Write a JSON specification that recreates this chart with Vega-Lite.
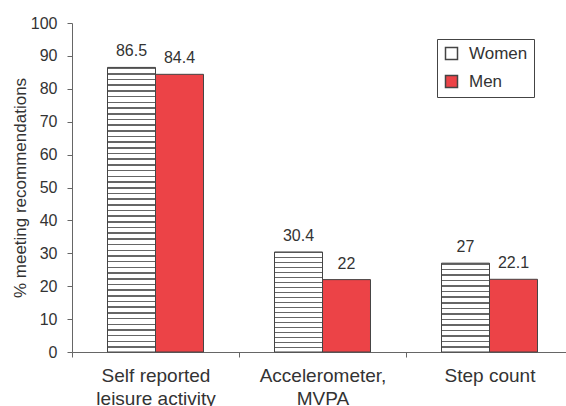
{
  "$schema": "https://vega.github.io/schema/vega-lite/v6.json",
  "width": 501,
  "height": 329,
  "autosize": {"type": "none"},
  "padding": {"left": 72, "top": 23, "right": -7, "bottom": 54},
  "background": "white",
  "config": {
    "font": "Liberation Sans",
    "view": {"stroke": null},
    "axis": {"labelColor": "#333", "titleColor": "#333", "domainColor": "#666", "tickColor": "#666", "grid": false, "labelFont": "Liberation Sans", "titleFont": "Liberation Sans"},
    "legend": {"labelFont": "Liberation Sans", "labelColor": "#333"}
  },
  "data": {
    "values": [
      {"measure": "Self reported leisure activity", "gender": "Women", "value": 86.5},
      {"measure": "Self reported leisure activity", "gender": "Men", "value": 84.4},
      {"measure": "Accelerometer, MVPA", "gender": "Women", "value": 30.4},
      {"measure": "Accelerometer, MVPA", "gender": "Men", "value": 22},
      {"measure": "Step count", "gender": "Women", "value": 27},
      {"measure": "Step count", "gender": "Men", "value": 22.1}
    ]
  },
  "encoding": {
    "x": {
      "field": "measure", "type": "nominal",
      "sort": ["Self reported leisure activity", "Accelerometer, MVPA", "Step count"],
      "scale": {"paddingInner": 0, "paddingOuter": 0},
      "axis": {
        "title": null, "labelAngle": 0, "labelFontSize": 19, "labelLineHeight": 23, "labelPadding": 9, "tickSize": 5, "tickBand": "extent",
        "labelExpr": "datum.value === 'Self reported leisure activity' ? ['Self reported', 'leisure activity'] : datum.value === 'Accelerometer, MVPA' ? ['Accelerometer,', 'MVPA'] : datum.value"
      }
    },
    "xOffset": {"field": "gender", "type": "nominal", "sort": ["Women", "Men"], "scale": {"paddingInner": 0, "paddingOuter": 0.74}},
    "y": {
      "field": "value", "type": "quantitative",
      "scale": {"domain": [0, 100]},
      "axis": {"title": "% meeting recommendations", "values": [0, 10, 20, 30, 40, 50, 60, 70, 80, 90, 100], "tickSize": 5, "labelFontSize": 16, "labelPadding": 10, "titleFontSize": 17, "titleFontWeight": "normal", "titlePadding": 1}
    }
  },
  "layer": [
    {
      "mark": {"type": "bar", "stroke": "#444", "strokeWidth": 1},
      "encoding": {
        "fill": {
          "field": "gender", "type": "nominal",
          "scale": {"domain": ["Women", "Men"], "range": ["#ffffff", "#ec4347"]},
          "legend": {
            "orient": "none", "legendX": 365, "legendY": 16, "title": null, "strokeColor": "#444", "fillColor": "white", "padding": 6, "labelFontSize": 17, "symbolType": "square", "symbolSize": 144, "symbolStrokeColor": "#444", "symbolStrokeWidth": 1.5, "rowPadding": 9, "labelOffset": 9,
            "encode": {"symbols": {"update": {
              "stroke": {"value": "#444"},
              "strokeWidth": {"value": 1.5},
              "opacity": {"value": 1},
              "fill": [
                {"test": "datum.value === 'Women'", "value": {"gradient": "linear", "x1": 0, "y1": 0, "x2": 0, "y2": 1, "stops": [
                  {"offset": 0, "color": "#fff"}, {"offset": 0.42, "color": "#fff"}, {"offset": 0.42, "color": "#555"}, {"offset": 0.58, "color": "#555"}, {"offset": 0.58, "color": "#fff"}, {"offset": 1, "color": "#fff"}
                ]}},
                {"value": "#ec4347"}
              ]
            }}}
          },
          "condition": [
            {"test": "datum.gender === 'Women' && datum.measure === 'Self reported leisure activity'", "value": {"gradient": "linear", "x1": 0, "y1": 0, "x2": 0, "y2": 1, "stops": [
              {"offset": 0, "color": "#666"}, {"offset": 0.0055, "color": "#666"}, {"offset": 0.0055, "color": "#fff"}, {"offset": 0.02, "color": "#fff"},
              {"offset": 0.02, "color": "#666"}, {"offset": 0.0255, "color": "#666"}, {"offset": 0.0255, "color": "#fff"}, {"offset": 0.04, "color": "#fff"},
              {"offset": 0.04, "color": "#666"}, {"offset": 0.0455, "color": "#666"}, {"offset": 0.0455, "color": "#fff"}, {"offset": 0.06, "color": "#fff"},
              {"offset": 0.06, "color": "#666"}, {"offset": 0.0655, "color": "#666"}, {"offset": 0.0655, "color": "#fff"}, {"offset": 0.08, "color": "#fff"},
              {"offset": 0.08, "color": "#666"}, {"offset": 0.0855, "color": "#666"}, {"offset": 0.0855, "color": "#fff"}, {"offset": 0.1, "color": "#fff"},
              {"offset": 0.1, "color": "#666"}, {"offset": 0.1055, "color": "#666"}, {"offset": 0.1055, "color": "#fff"}, {"offset": 0.12, "color": "#fff"},
              {"offset": 0.12, "color": "#666"}, {"offset": 0.1255, "color": "#666"}, {"offset": 0.1255, "color": "#fff"}, {"offset": 0.14, "color": "#fff"},
              {"offset": 0.14, "color": "#666"}, {"offset": 0.1455, "color": "#666"}, {"offset": 0.1455, "color": "#fff"}, {"offset": 0.16, "color": "#fff"},
              {"offset": 0.16, "color": "#666"}, {"offset": 0.1655, "color": "#666"}, {"offset": 0.1655, "color": "#fff"}, {"offset": 0.18, "color": "#fff"},
              {"offset": 0.18, "color": "#666"}, {"offset": 0.1855, "color": "#666"}, {"offset": 0.1855, "color": "#fff"}, {"offset": 0.2, "color": "#fff"},
              {"offset": 0.2, "color": "#666"}, {"offset": 0.2055, "color": "#666"}, {"offset": 0.2055, "color": "#fff"}, {"offset": 0.22, "color": "#fff"},
              {"offset": 0.22, "color": "#666"}, {"offset": 0.2255, "color": "#666"}, {"offset": 0.2255, "color": "#fff"}, {"offset": 0.24, "color": "#fff"},
              {"offset": 0.24, "color": "#666"}, {"offset": 0.2455, "color": "#666"}, {"offset": 0.2455, "color": "#fff"}, {"offset": 0.26, "color": "#fff"},
              {"offset": 0.26, "color": "#666"}, {"offset": 0.2655, "color": "#666"}, {"offset": 0.2655, "color": "#fff"}, {"offset": 0.28, "color": "#fff"},
              {"offset": 0.28, "color": "#666"}, {"offset": 0.2855, "color": "#666"}, {"offset": 0.2855, "color": "#fff"}, {"offset": 0.3, "color": "#fff"},
              {"offset": 0.3, "color": "#666"}, {"offset": 0.3055, "color": "#666"}, {"offset": 0.3055, "color": "#fff"}, {"offset": 0.32, "color": "#fff"},
              {"offset": 0.32, "color": "#666"}, {"offset": 0.3255, "color": "#666"}, {"offset": 0.3255, "color": "#fff"}, {"offset": 0.34, "color": "#fff"},
              {"offset": 0.34, "color": "#666"}, {"offset": 0.3455, "color": "#666"}, {"offset": 0.3455, "color": "#fff"}, {"offset": 0.36, "color": "#fff"},
              {"offset": 0.36, "color": "#666"}, {"offset": 0.3655, "color": "#666"}, {"offset": 0.3655, "color": "#fff"}, {"offset": 0.38, "color": "#fff"},
              {"offset": 0.38, "color": "#666"}, {"offset": 0.3855, "color": "#666"}, {"offset": 0.3855, "color": "#fff"}, {"offset": 0.4, "color": "#fff"},
              {"offset": 0.4, "color": "#666"}, {"offset": 0.4055, "color": "#666"}, {"offset": 0.4055, "color": "#fff"}, {"offset": 0.42, "color": "#fff"},
              {"offset": 0.42, "color": "#666"}, {"offset": 0.4255, "color": "#666"}, {"offset": 0.4255, "color": "#fff"}, {"offset": 0.44, "color": "#fff"},
              {"offset": 0.44, "color": "#666"}, {"offset": 0.4455, "color": "#666"}, {"offset": 0.4455, "color": "#fff"}, {"offset": 0.46, "color": "#fff"},
              {"offset": 0.46, "color": "#666"}, {"offset": 0.4655, "color": "#666"}, {"offset": 0.4655, "color": "#fff"}, {"offset": 0.48, "color": "#fff"},
              {"offset": 0.48, "color": "#666"}, {"offset": 0.4855, "color": "#666"}, {"offset": 0.4855, "color": "#fff"}, {"offset": 0.5, "color": "#fff"},
              {"offset": 0.5, "color": "#666"}, {"offset": 0.5055, "color": "#666"}, {"offset": 0.5055, "color": "#fff"}, {"offset": 0.52, "color": "#fff"},
              {"offset": 0.52, "color": "#666"}, {"offset": 0.5255, "color": "#666"}, {"offset": 0.5255, "color": "#fff"}, {"offset": 0.54, "color": "#fff"},
              {"offset": 0.54, "color": "#666"}, {"offset": 0.5455, "color": "#666"}, {"offset": 0.5455, "color": "#fff"}, {"offset": 0.56, "color": "#fff"},
              {"offset": 0.56, "color": "#666"}, {"offset": 0.5655, "color": "#666"}, {"offset": 0.5655, "color": "#fff"}, {"offset": 0.58, "color": "#fff"},
              {"offset": 0.58, "color": "#666"}, {"offset": 0.5855, "color": "#666"}, {"offset": 0.5855, "color": "#fff"}, {"offset": 0.6, "color": "#fff"},
              {"offset": 0.6, "color": "#666"}, {"offset": 0.6055, "color": "#666"}, {"offset": 0.6055, "color": "#fff"}, {"offset": 0.62, "color": "#fff"},
              {"offset": 0.62, "color": "#666"}, {"offset": 0.6255, "color": "#666"}, {"offset": 0.6255, "color": "#fff"}, {"offset": 0.64, "color": "#fff"},
              {"offset": 0.64, "color": "#666"}, {"offset": 0.6455, "color": "#666"}, {"offset": 0.6455, "color": "#fff"}, {"offset": 0.66, "color": "#fff"},
              {"offset": 0.66, "color": "#666"}, {"offset": 0.6655, "color": "#666"}, {"offset": 0.6655, "color": "#fff"}, {"offset": 0.68, "color": "#fff"},
              {"offset": 0.68, "color": "#666"}, {"offset": 0.6855, "color": "#666"}, {"offset": 0.6855, "color": "#fff"}, {"offset": 0.7, "color": "#fff"},
              {"offset": 0.7, "color": "#666"}, {"offset": 0.7055, "color": "#666"}, {"offset": 0.7055, "color": "#fff"}, {"offset": 0.72, "color": "#fff"},
              {"offset": 0.72, "color": "#666"}, {"offset": 0.7255, "color": "#666"}, {"offset": 0.7255, "color": "#fff"}, {"offset": 0.74, "color": "#fff"},
              {"offset": 0.74, "color": "#666"}, {"offset": 0.7455, "color": "#666"}, {"offset": 0.7455, "color": "#fff"}, {"offset": 0.76, "color": "#fff"},
              {"offset": 0.76, "color": "#666"}, {"offset": 0.7655, "color": "#666"}, {"offset": 0.7655, "color": "#fff"}, {"offset": 0.78, "color": "#fff"},
              {"offset": 0.78, "color": "#666"}, {"offset": 0.7855, "color": "#666"}, {"offset": 0.7855, "color": "#fff"}, {"offset": 0.8, "color": "#fff"},
              {"offset": 0.8, "color": "#666"}, {"offset": 0.8055, "color": "#666"}, {"offset": 0.8055, "color": "#fff"}, {"offset": 0.82, "color": "#fff"},
              {"offset": 0.82, "color": "#666"}, {"offset": 0.8255, "color": "#666"}, {"offset": 0.8255, "color": "#fff"}, {"offset": 0.84, "color": "#fff"},
              {"offset": 0.84, "color": "#666"}, {"offset": 0.8455, "color": "#666"}, {"offset": 0.8455, "color": "#fff"}, {"offset": 0.86, "color": "#fff"},
              {"offset": 0.86, "color": "#666"}, {"offset": 0.8655, "color": "#666"}, {"offset": 0.8655, "color": "#fff"}, {"offset": 0.88, "color": "#fff"},
              {"offset": 0.88, "color": "#666"}, {"offset": 0.8855, "color": "#666"}, {"offset": 0.8855, "color": "#fff"}, {"offset": 0.9, "color": "#fff"},
              {"offset": 0.9, "color": "#666"}, {"offset": 0.9055, "color": "#666"}, {"offset": 0.9055, "color": "#fff"}, {"offset": 0.92, "color": "#fff"},
              {"offset": 0.92, "color": "#666"}, {"offset": 0.9255, "color": "#666"}, {"offset": 0.9255, "color": "#fff"}, {"offset": 0.94, "color": "#fff"},
              {"offset": 0.94, "color": "#666"}, {"offset": 0.9455, "color": "#666"}, {"offset": 0.9455, "color": "#fff"}, {"offset": 0.96, "color": "#fff"},
              {"offset": 0.96, "color": "#666"}, {"offset": 0.9655, "color": "#666"}, {"offset": 0.9655, "color": "#fff"}, {"offset": 0.98, "color": "#fff"},
              {"offset": 0.98, "color": "#666"}, {"offset": 0.9855, "color": "#666"}, {"offset": 0.9855, "color": "#fff"}, {"offset": 1, "color": "#fff"}
            ]}},
            {"test": "datum.gender === 'Women' && datum.measure === 'Accelerometer, MVPA'", "value": {"gradient": "linear", "x1": 0, "y1": 0, "x2": 0, "y2": 1, "stops": [
              {"offset": 0, "color": "#666"}, {"offset": 0.015, "color": "#666"}, {"offset": 0.015, "color": "#fff"}, {"offset": 0.05, "color": "#fff"},
              {"offset": 0.05, "color": "#666"}, {"offset": 0.065, "color": "#666"}, {"offset": 0.065, "color": "#fff"}, {"offset": 0.1, "color": "#fff"},
              {"offset": 0.1, "color": "#666"}, {"offset": 0.115, "color": "#666"}, {"offset": 0.115, "color": "#fff"}, {"offset": 0.15, "color": "#fff"},
              {"offset": 0.15, "color": "#666"}, {"offset": 0.165, "color": "#666"}, {"offset": 0.165, "color": "#fff"}, {"offset": 0.2, "color": "#fff"},
              {"offset": 0.2, "color": "#666"}, {"offset": 0.215, "color": "#666"}, {"offset": 0.215, "color": "#fff"}, {"offset": 0.25, "color": "#fff"},
              {"offset": 0.25, "color": "#666"}, {"offset": 0.265, "color": "#666"}, {"offset": 0.265, "color": "#fff"}, {"offset": 0.3, "color": "#fff"},
              {"offset": 0.3, "color": "#666"}, {"offset": 0.315, "color": "#666"}, {"offset": 0.315, "color": "#fff"}, {"offset": 0.35, "color": "#fff"},
              {"offset": 0.35, "color": "#666"}, {"offset": 0.365, "color": "#666"}, {"offset": 0.365, "color": "#fff"}, {"offset": 0.4, "color": "#fff"},
              {"offset": 0.4, "color": "#666"}, {"offset": 0.415, "color": "#666"}, {"offset": 0.415, "color": "#fff"}, {"offset": 0.45, "color": "#fff"},
              {"offset": 0.45, "color": "#666"}, {"offset": 0.465, "color": "#666"}, {"offset": 0.465, "color": "#fff"}, {"offset": 0.5, "color": "#fff"},
              {"offset": 0.5, "color": "#666"}, {"offset": 0.515, "color": "#666"}, {"offset": 0.515, "color": "#fff"}, {"offset": 0.55, "color": "#fff"},
              {"offset": 0.55, "color": "#666"}, {"offset": 0.565, "color": "#666"}, {"offset": 0.565, "color": "#fff"}, {"offset": 0.6, "color": "#fff"},
              {"offset": 0.6, "color": "#666"}, {"offset": 0.615, "color": "#666"}, {"offset": 0.615, "color": "#fff"}, {"offset": 0.65, "color": "#fff"},
              {"offset": 0.65, "color": "#666"}, {"offset": 0.665, "color": "#666"}, {"offset": 0.665, "color": "#fff"}, {"offset": 0.7, "color": "#fff"},
              {"offset": 0.7, "color": "#666"}, {"offset": 0.715, "color": "#666"}, {"offset": 0.715, "color": "#fff"}, {"offset": 0.75, "color": "#fff"},
              {"offset": 0.75, "color": "#666"}, {"offset": 0.765, "color": "#666"}, {"offset": 0.765, "color": "#fff"}, {"offset": 0.8, "color": "#fff"},
              {"offset": 0.8, "color": "#666"}, {"offset": 0.815, "color": "#666"}, {"offset": 0.815, "color": "#fff"}, {"offset": 0.85, "color": "#fff"},
              {"offset": 0.85, "color": "#666"}, {"offset": 0.865, "color": "#666"}, {"offset": 0.865, "color": "#fff"}, {"offset": 0.9, "color": "#fff"},
              {"offset": 0.9, "color": "#666"}, {"offset": 0.915, "color": "#666"}, {"offset": 0.915, "color": "#fff"}, {"offset": 0.95, "color": "#fff"},
              {"offset": 0.95, "color": "#666"}, {"offset": 0.965, "color": "#666"}, {"offset": 0.965, "color": "#fff"}, {"offset": 1, "color": "#fff"}
            ]}},
            {"test": "datum.gender === 'Women' && datum.measure === 'Step count'", "value": {"gradient": "linear", "x1": 0, "y1": 0, "x2": 0, "y2": 1, "stops": [
              {"offset": 0, "color": "#666"}, {"offset": 0.017, "color": "#666"}, {"offset": 0.017, "color": "#fff"}, {"offset": 0.0625, "color": "#fff"},
              {"offset": 0.0625, "color": "#666"}, {"offset": 0.0795, "color": "#666"}, {"offset": 0.0795, "color": "#fff"}, {"offset": 0.125, "color": "#fff"},
              {"offset": 0.125, "color": "#666"}, {"offset": 0.142, "color": "#666"}, {"offset": 0.142, "color": "#fff"}, {"offset": 0.1875, "color": "#fff"},
              {"offset": 0.1875, "color": "#666"}, {"offset": 0.2045, "color": "#666"}, {"offset": 0.2045, "color": "#fff"}, {"offset": 0.25, "color": "#fff"},
              {"offset": 0.25, "color": "#666"}, {"offset": 0.267, "color": "#666"}, {"offset": 0.267, "color": "#fff"}, {"offset": 0.3125, "color": "#fff"},
              {"offset": 0.3125, "color": "#666"}, {"offset": 0.3295, "color": "#666"}, {"offset": 0.3295, "color": "#fff"}, {"offset": 0.375, "color": "#fff"},
              {"offset": 0.375, "color": "#666"}, {"offset": 0.392, "color": "#666"}, {"offset": 0.392, "color": "#fff"}, {"offset": 0.4375, "color": "#fff"},
              {"offset": 0.4375, "color": "#666"}, {"offset": 0.4545, "color": "#666"}, {"offset": 0.4545, "color": "#fff"}, {"offset": 0.5, "color": "#fff"},
              {"offset": 0.5, "color": "#666"}, {"offset": 0.517, "color": "#666"}, {"offset": 0.517, "color": "#fff"}, {"offset": 0.5625, "color": "#fff"},
              {"offset": 0.5625, "color": "#666"}, {"offset": 0.5795, "color": "#666"}, {"offset": 0.5795, "color": "#fff"}, {"offset": 0.625, "color": "#fff"},
              {"offset": 0.625, "color": "#666"}, {"offset": 0.642, "color": "#666"}, {"offset": 0.642, "color": "#fff"}, {"offset": 0.6875, "color": "#fff"},
              {"offset": 0.6875, "color": "#666"}, {"offset": 0.7045, "color": "#666"}, {"offset": 0.7045, "color": "#fff"}, {"offset": 0.75, "color": "#fff"},
              {"offset": 0.75, "color": "#666"}, {"offset": 0.767, "color": "#666"}, {"offset": 0.767, "color": "#fff"}, {"offset": 0.8125, "color": "#fff"},
              {"offset": 0.8125, "color": "#666"}, {"offset": 0.8295, "color": "#666"}, {"offset": 0.8295, "color": "#fff"}, {"offset": 0.875, "color": "#fff"},
              {"offset": 0.875, "color": "#666"}, {"offset": 0.892, "color": "#666"}, {"offset": 0.892, "color": "#fff"}, {"offset": 0.9375, "color": "#fff"},
              {"offset": 0.9375, "color": "#666"}, {"offset": 0.9545, "color": "#666"}, {"offset": 0.9545, "color": "#fff"}, {"offset": 1, "color": "#fff"}
            ]}}
          ]
        }
      }
    },
    {
      "mark": {"type": "text", "baseline": "alphabetic", "dy": -11, "fontSize": 16, "color": "#333", "font": "Liberation Sans"},
      "encoding": {"text": {"field": "value", "type": "quantitative"}}
    }
  ]
}
